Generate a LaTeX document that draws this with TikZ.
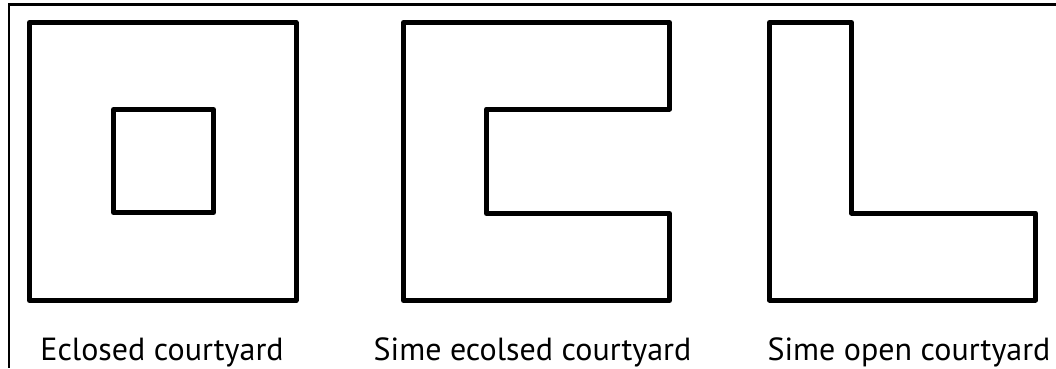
\documentclass[tikz,border=0pt]{standalone}
\usepackage{fontspec}
\setmainfont{PT Sans}
\begin{document}
\begin{tikzpicture}[x=1pt,y=1pt,
  wall/.style={draw=black,line width=5pt,line join=round},
  frame/.style={draw=black,line width=2.5pt},
  caption/.style={anchor=base,inner sep=0pt,font=\fontsize{32}{38}\selectfont}]
\useasboundingbox (0,0) rectangle (1056,368);
\fill[white] (0,0) rectangle (1056,368);
% outer frame (top and left)
\draw[frame] (1056,363.5) -- (9,363.5) -- (9,0);
% enclosed courtyard
\draw[wall] (29.5,345.5) rectangle (296,67.5);
\draw[wall] (113.5,258.5) rectangle (213.5,155.5);
% semi-enclosed courtyard
\draw[wall] (403.5,345.5) -- (669.5,345.5) -- (669.5,259) -- (486.5,259)
  -- (486.5,154.5) -- (669.5,154.5) -- (669.5,67.5) -- (403.5,67.5) -- cycle;
% semi-open courtyard
\draw[wall] (769.5,345.5) -- (851.5,345.5) -- (851.5,155) -- (1035.5,155)
  -- (1035.5,68) -- (769.5,68) -- cycle;
% captions
\node[caption] (c1) at (162,7.3) {Eclosed courtyard};
\node[caption] (c2) at (532.5,7.3) {Sime ecolsed courtyard};
\node[caption] (c3) at (909,7.3) {Sime open courtyard};
\end{tikzpicture}
\end{document}
